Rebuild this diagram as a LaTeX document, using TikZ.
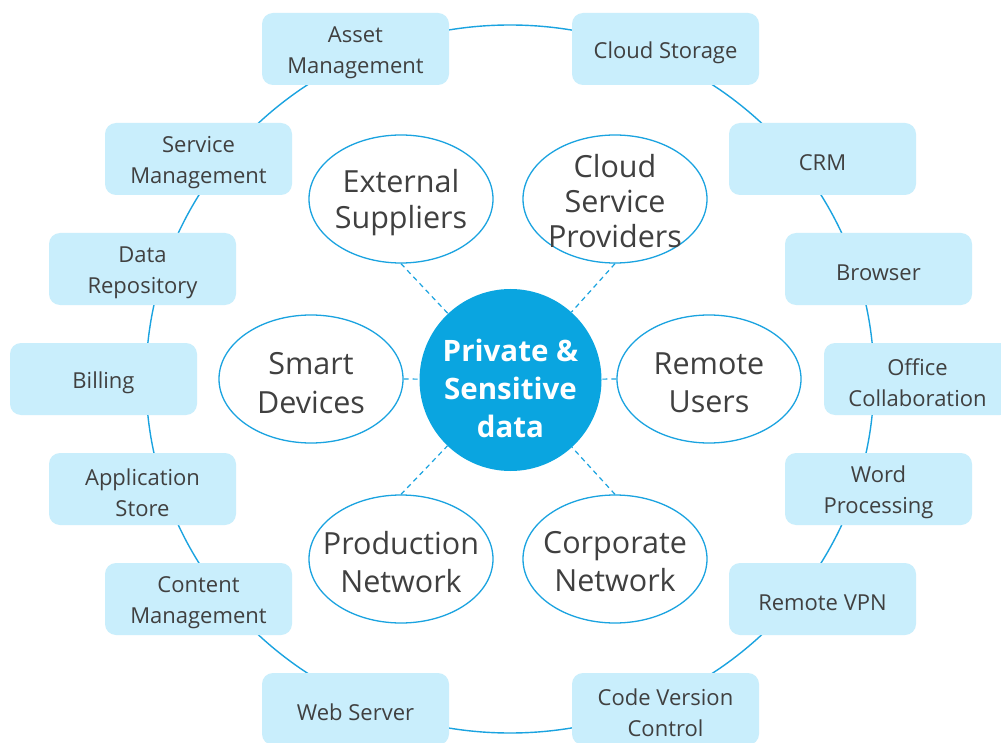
\documentclass[tikz,border=0pt]{standalone}
\usepackage{fontspec}
\setmainfont{Open Sans}
\usetikzlibrary{shapes.geometric}
\definecolor{ringblue}{HTML}{1AA3E0}
\definecolor{corefill}{HTML}{0AA5E0}
\definecolor{boxfill}{HTML}{C9EEFC}
\definecolor{txt}{HTML}{404040}
\tikzset{
  appbox/.style={rectangle, rounded corners=11pt, fill=boxfill,
    minimum width=187pt, minimum height=72pt, inner sep=0pt,
    label={[text=txt, align=center, yshift=-3.5pt,
      font=\fontsize{22}{31}\selectfont]center:#1}},
  actor/.style={ellipse, draw=ringblue, line width=1.3pt, fill=white,
    minimum width=184pt, minimum height=128pt, inner sep=0pt},
  actortext/.style={text=txt, align=center, inner sep=0pt,
    font=\fontsize{30.5}{#1}\selectfont},
  core/.style={circle, fill=corefill, minimum size=182pt, inner sep=0pt},
  coretext/.style={text=white, align=center, inner sep=0pt,
    font=\bfseries\fontsize{29.5}{38}\selectfont},
  link/.style={draw=ringblue, line width=1.2pt, dash pattern=on 5pt off 4pt},
  ringline/.style={draw=ringblue, line width=1.4pt}
}
\begin{document}
\begin{tikzpicture}[x=1pt,y=-1pt]
\useasboundingbox (0,0) rectangle (1001,743);
\clip (0,0) rectangle (1001,743);
\fill[white] (0,0) rectangle (1001,743);

% outer ring joining the application boxes
\node[ellipse, ringline, minimum width=728pt, minimum height=708pt, inner sep=0pt] (ring) at (510,379) {};

% application boxes around the ring
\node[appbox={Asset\\Management}]      (asset)    at (355.5,49)  {};
\node[appbox={Cloud Storage}]          (cloudst)  at (665.5,49)  {};
\node[appbox={Service\\Management}]    (service)  at (198.5,159) {};
\node[appbox={CRM}]                    (crm)      at (822.5,159) {};
\node[appbox={Data\\Repository}]       (repo)     at (142.5,269) {};
\node[appbox={Browser}]                (browser)  at (878.5,269) {};
\node[appbox={Billing}]                (billing)  at (103.5,379) {};
\node[appbox={Office\\Collaboration}]  (office)   at (917.5,379) {};
\node[appbox={Application\\Store}]     (appstore) at (142.5,489) {};
\node[appbox={Word\\Processing}]       (word)     at (878.5,489) {};
\node[appbox={Content\\Management}]    (content)  at (198.5,599) {};
\node[appbox={Remote VPN}]             (vpn)      at (822.5,599) {};
\node[appbox={Web Server}]             (web)      at (355.5,709) {};
\node[appbox={Code Version\\Control}]  (cvc)      at (665.5,709) {};

% core and the parties around it
\node[core] (data) at (510.5,380) {};
\node[coretext] (datatext) at (510.5,388) {Private \&\\Sensitive\\data};

\node[actor] (suppliers) at (401,199) {};
\node[actor] (csp)       at (615,199) {};
\node[actor] (smart)     at (311,379) {};
\node[actor] (remote)    at (709,379) {};
\node[actor] (prod)      at (401,559) {};
\node[actor] (corp)      at (615,559) {};

\node[actortext=36] at (401,203) {External\\Suppliers};
\node[actortext=35] at (615,201) {Cloud\\Service\\Providers};
\node[actortext=38.5] at (311,383) {Smart\\Devices};
\node[actortext=38.5] at (709,383) {Remote\\Users};
\node[actortext=38] at (401,562) {Production\\Network};
\node[actortext=38] at (615,562) {Corporate\\Network};

% dashed links from the core
\draw[link] (suppliers.south) -- (data);
\draw[link] (csp.south)       -- (data);
\draw[link] (smart.east)      -- (data);
\draw[link] (remote.west)     -- (data);
\draw[link] (prod.north)      -- (data);
\draw[link] (corp.north)      -- (data);
\end{tikzpicture}
\end{document}
